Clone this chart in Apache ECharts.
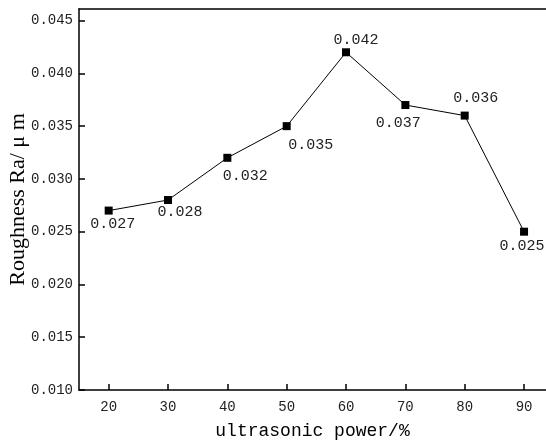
<!DOCTYPE html>
<html>
<head>
<meta charset="utf-8">
<script src="https://cdn.jsdelivr.net/npm/echarts@6/dist/echarts.min.js"></script>
<style>
  html, body { margin: 0; padding: 0; background: #fff; }
  #chart { width: 546px; height: 443px; }
</style>
</head>
<body>
<div id="chart"></div>
<script>
const power = [20, 30, 40, 50, 60, 70, 80, 90];
const roughness = [0.027, 0.028, 0.032, 0.035, 0.042, 0.037, 0.036, 0.025];
// label offset from each marker (px)
const labelOffsets = [[4, 13], [12, 12], [18, 18], [24, 19], [10, -12], [-7, 18], [11, -18], [-2, 14]];

const chart = echarts.init(document.getElementById('chart'));
const mono = 'Liberation Mono';

const option = {
  animation: false,
  grid: { left: 79, right: 0, top: 9, bottom: 53, containLabel: false, outerBoundsMode: 'none' },
  xAxis: [{
    type: 'value',
    min: 15,
    max: 93.7,
    interval: 10,
    name: 'ultrasonic power/%',
    nameLocation: 'middle',
    nameGap: 32,
    nameMoveOverlap: false,
    nameTextStyle: { fontFamily: mono, fontSize: 18, color: '#000' },
    axisLine: { lineStyle: { color: '#000', width: 1.5 } },
    axisTick: { inside: true, length: 6, lineStyle: { color: '#000', width: 1.5 }, customValues: power },
    axisLabel: { customValues: power, fontFamily: mono, fontSize: 14, color: '#222', margin: 10 },
    splitLine: { show: false }
  }, {
    type: 'value',
    position: 'top',
    min: 15,
    max: 93.7,
    axisLine: { show: true, lineStyle: { color: '#000', width: 1.5 } },
    axisTick: { show: false },
    axisLabel: { show: false },
    splitLine: { show: false }
  }],
  yAxis: {
    type: 'value',
    min: 0.010,
    max: 0.0461,
    interval: 0.005,
    name: 'Roughness Ra/ μ m',
    nameLocation: 'middle',
    nameGap: 50,
    nameMoveOverlap: false,
    nameTextStyle: { fontFamily: 'Liberation Serif', fontSize: 22, color: '#000' },
    axisLine: { lineStyle: { color: '#000', width: 1.5 } },
    axisTick: { inside: true, length: 6, lineStyle: { color: '#000', width: 1.5 } },
    axisLabel: {
      fontFamily: mono, fontSize: 14, color: '#222', margin: 6,
      formatter: v => v.toFixed(3),
      showMaxLabel: false
    },
    splitLine: { show: false }
  },
  series: [{
    type: 'line',
    data: power.map((p, i) => ({
      value: [p, roughness[i]],
      label: { offset: labelOffsets[i] }
    })),
    symbol: 'rect',
    symbolSize: 8,
    itemStyle: { color: '#000' },
    lineStyle: { color: '#000', width: 1 },
    label: {
      show: true,
      position: 'inside',
      align: 'center',
      verticalAlign: 'middle',
      fontFamily: mono,
      fontSize: 15,
      color: '#222',
      formatter: p => p.value[1].toFixed(3)
    }
  }]
};

chart.setOption(option);
</script>
</body>
</html>
